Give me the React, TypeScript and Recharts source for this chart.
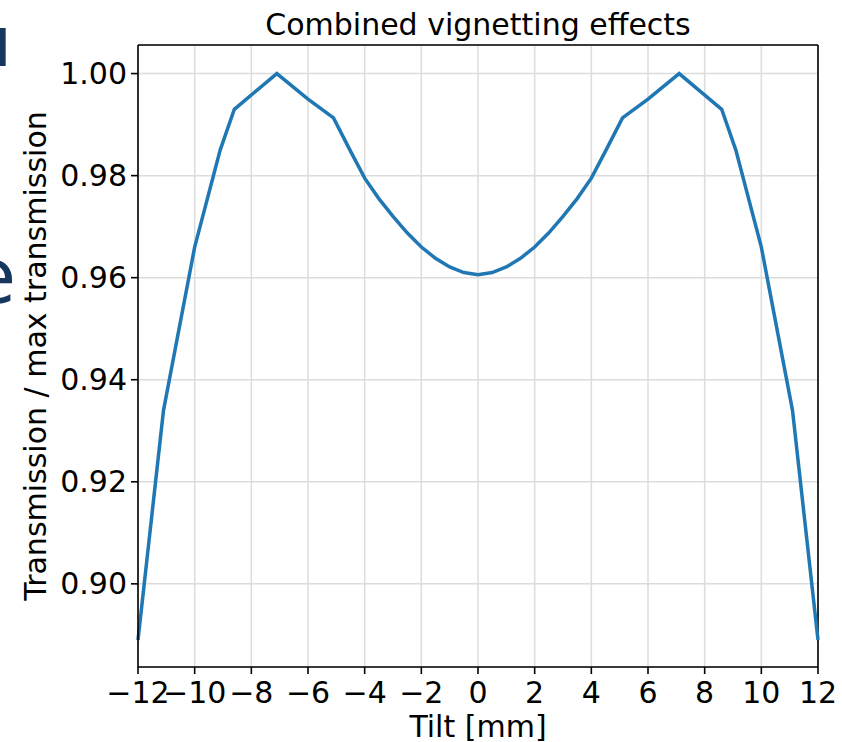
import React from 'react';
import { LineChart, Line, XAxis, YAxis, CartesianGrid, ReferenceLine } from 'recharts';

const tilt = [-12, -11.1, -10, -9.1, -8.6, -7.1, -6, -5.1, -4.5, -4, -3.5, -3, -2.5, -2, -1.5, -1, -0.5, 0,
  0.5, 1, 1.5, 2, 2.5, 3, 3.5, 4, 4.5, 5.1, 6, 7.1, 8.6, 9.1, 10, 11.1, 12];
const transmission = [0.889, 0.934, 0.966, 0.985, 0.993, 1.0, 0.995, 0.9913, 0.9848, 0.9795, 0.9755, 0.972, 0.9688, 0.966, 0.9638, 0.9621, 0.961, 0.9606,
  0.961, 0.9621, 0.9638, 0.966, 0.9688, 0.972, 0.9755, 0.9795, 0.9848, 0.9913, 0.995, 1.0, 0.993, 0.985, 0.966, 0.934, 0.889];

const xTicks = [-12, -10, -8, -6, -4, -2, 0, 2, 4, 6, 8, 10, 12];
const yTicks = [0.9, 0.92, 0.94, 0.96, 0.98, 1.0];
const yMin = 0.8837;
const yMax = 1.0056;

const data = tilt.map((t, i) => ({ tilt: t, value: transmission[i] }));

const font = '"DejaVu Sans", sans-serif';
const fmtX = (v: number) => (v < 0 ? '\u2212' + Math.abs(v) : String(v));

const App: React.FC = () => {
  return (
    <div style={{ position: 'absolute', left: 0, top: 0, width: 842, height: 742, background: '#fff', fontFamily: font }}>
      <LineChart width={842} height={742} data={data} margin={{ top: 45, right: 24, bottom: 0, left: 0 }}>
        <CartesianGrid stroke="#dcdcdc" strokeWidth={1.5} />
        <XAxis
          dataKey="tilt"
          type="number"
          domain={[-12, 12]}
          ticks={xTicks}
          tickFormatter={fmtX}
          height={75}
          tickSize={7}
          tickMargin={8}
          stroke="#000"
          strokeWidth={1.6}
          tick={{ fill: '#000', fontSize: 30, fontFamily: font }}
          interval={0}
        />
        <YAxis
          type="number"
          domain={[yMin, yMax]}
          allowDataOverflow
          ticks={yTicks}
          tickFormatter={(v: number) => v.toFixed(2)}
          width={138}
          tickSize={7}
          tickMargin={4}
          stroke="#000"
          strokeWidth={1.6}
          tick={{ fill: '#000', fontSize: 30, fontFamily: font }}
          interval={0}
        />
        <ReferenceLine x={12} stroke="#000" strokeWidth={1.6} />
        <ReferenceLine y={yMax} stroke="#000" strokeWidth={1.6} />
        <Line
          type="linear"
          dataKey="value"
          stroke="#1f77b4"
          strokeWidth={3.5}
          dot={false}
          isAnimationActive={false}
        />
      </LineChart>
      <svg width={842} height={742} style={{ position: 'absolute', left: 0, top: 0, pointerEvents: 'none' }}>
        <text x={10} y={66} textAnchor="end" fontSize={50} fontWeight="bold" fill="#17375e" fontFamily={font}>l</text>
        <text x={16} y={303} textAnchor="end" fontSize={77} fill="#17375e" fontFamily={font}>e</text>
        <text x={478} y={35} textAnchor="middle" fontSize={30} fill="#000" fontFamily={font}>Combined vignetting effects</text>
        <text x={478} y={737} textAnchor="middle" fontSize={30} fill="#000" fontFamily={font}>Tilt [mm]</text>
        <text x={46} y={356} textAnchor="middle" fontSize={30} fill="#000" fontFamily={font} transform="rotate(-90 46 356)">
          Transmission / max transmission
        </text>
      </svg>
    </div>
  );
};

export default App;
